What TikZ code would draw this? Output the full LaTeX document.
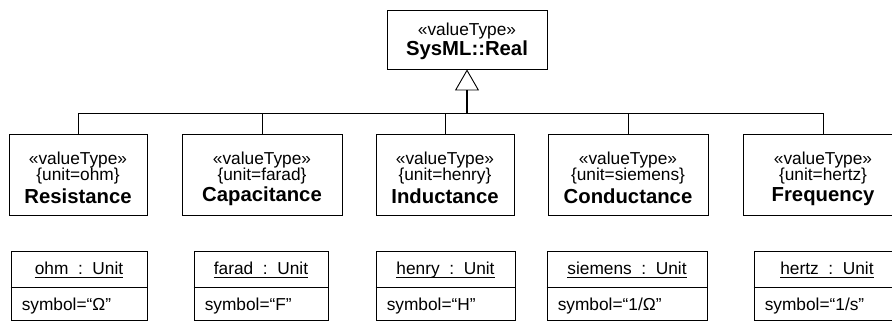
\documentclass[tikz,border=0pt]{standalone}
\usepackage{fontspec}
\setmainfont{Liberation Sans}
\usetikzlibrary{arrows.meta}
\tikzset{
  box/.style={draw, line width=0.9pt, inner sep=0pt, fill=white},
  stereo/.style={font=\fontsize{17.3}{19}\selectfont, inner sep=0pt},
  bname/.style={font=\fontsize{20.3}{22}\bfseries\selectfont, inner sep=0pt},
  utext/.style={font=\fontsize{17.3}{19}\selectfont, inner sep=0pt},
  uhead/.style={utext, text height=12.5pt, text depth=3.7pt},
  gen/.style={line width=0.9pt},
  uline/.style={line width=0.9pt},
}
\begin{document}
\begin{tikzpicture}[x=1pt,y=-1pt]
\useasboundingbox (0,0) rectangle (892,323);
% top
\node[box, minimum width=160pt, minimum height=59pt] (real) at (467,39.5) {};
\node[stereo] (realst) at (467,31) {«valueType»};
\node[bname] (realnm) at (467,50.5) {SysML::Real};
% value types
\foreach \n/\cx/\w/\u/\name in {res/78/138/ohm/Resistance, cap/262/160/farad/Capacitance, ind/445/138/henry/Inductance, cond/628/160/siemens/Conductance, freq/823/160/hertz/Frequency}{
  \node[box, minimum width=\w pt, minimum height=81pt] (\n) at (\cx,174.5) {};
  \node[stereo] (\n st) at (\cx,160) {«valueType»};
  \node[stereo] (\n un) at (\cx,176.5) {\{unit=\u\}};
  \node[bname] (\n nm) at (\cx,196.5) {\name};
}
% generalization
\coordinate (bus) at (467,113);
\foreach \n in {res,cap,ind,cond,freq}{
  \draw[gen] (\n.north) |- (bus);
}
\draw[line width=2.6pt, -{Triangle[open, width=24pt, length=21pt, line width=0.9pt]}] (bus) -- (real.south);
% units
\foreach \n/\cx/\w/\u/\s in {ohm/79/136/ohm/Ω, farad/261/134/farad/F, henry/445.5/139/henry/H, siemens/627/160/siemens/1\slash Ω, hertz/827/146/hertz/1\slash s}{
  \node[box, minimum width=\w pt, minimum height=69pt] (\n) at (\cx,285.5) {};
  \draw[line width=0.9pt] ([yshift=-37pt]\n.north west) coordinate (\n sl) -- ([yshift=-37pt]\n.north east) coordinate (\n sr);
  \node[uhead] (\n hd) at (\cx,270) {\u\ \ :\ \ Unit};
  \draw[uline] ([yshift=-3.2pt]\n hd.base west) -- ([yshift=-3.2pt]\n hd.base east);
  \node[utext, anchor=west] (\n at) at ([xshift=11pt,yshift=-18pt]\n sl) {symbol=“\s”};
}
\end{tikzpicture}
\end{document}
